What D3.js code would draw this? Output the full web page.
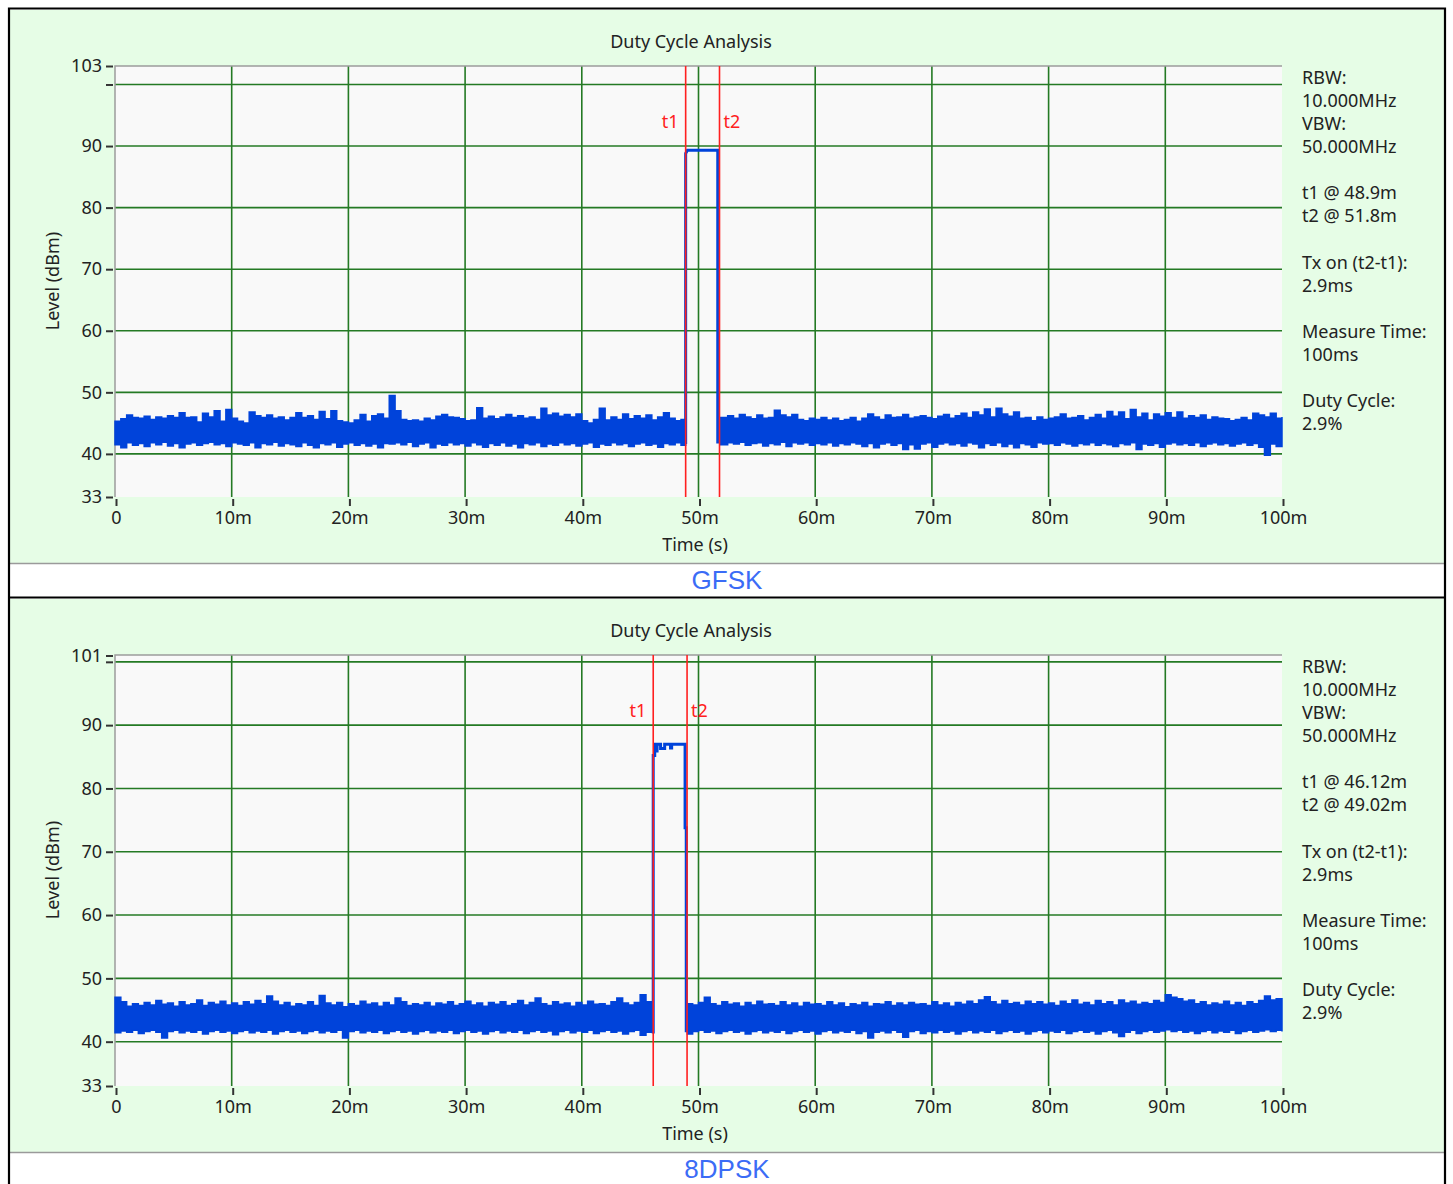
<!DOCTYPE html>
<html>
<head>
<meta charset="utf-8">
<script src="https://cdn.jsdelivr.net/npm/d3@7"></script>
<style>
  body { margin: 0; background: #fff; }
  svg { display: block; }
  text { font-family: "Noto Sans", sans-serif; }
</style>
</head>
<body>
<svg id="chart"></svg>
<script>
// --- data (time in ms, level in dBm) ---
var timeTicks = [0, 10, 20, 30, 40, 50, 60, 70, 80, 90, 100];
var timeLabels = ["0", "10m", "20m", "30m", "40m", "50m", "60m", "70m", "80m", "90m", "100m"];
var levelGrid = [40, 50, 60, 70, 80, 90, 100];

var gfskYTicks = [103, 100, 90, 80, 70, 60, 50, 40, 33];
var gfskYLabels = ["103", "", "90", "80", "70", "60", "50", "40", "33"];
var dpskYTicks = [101, 100, 90, 80, 70, 60, 50, 40, 33];
var dpskYLabels = ["101", "", "90", "80", "70", "60", "50", "40", "33"];

var gfskMarkers = [48.9, 51.8];
var dpskMarkers = [46.12, 49.02];

var gfskInfo = ["RBW:", "10.000MHz", "VBW:", "50.000MHz", "", "t1 @ 48.9m", "t2 @ 51.8m", "",
  "Tx on (t2-t1):", "2.9ms", "", "Measure Time:", "100ms", "", "Duty Cycle:", "2.9%"];
var dpskInfo = ["RBW:", "10.000MHz", "VBW:", "50.000MHz", "", "t1 @ 46.12m", "t2 @ 49.02m", "",
  "Tx on (t2-t1):", "2.9ms", "", "Measure Time:", "100ms", "", "Duty Cycle:", "2.9%"];

// noise band envelopes, one value every 0.5 ms
var gfskHiA = [45.3,45.7,46.3,45.9,45.8,46.1,45.6,46.0,45.8,46.2,
  45.9,46.7,45.9,46.0,45.2,46.6,46.0,47.0,45.3,47.2,
  45.8,45.3,45.0,46.8,46.2,45.9,46.3,45.8,46.0,45.5,
  45.9,46.7,45.9,46.2,45.6,46.9,45.7,47.0,45.4,45.2,
  45.0,45.5,46.4,45.3,46.2,46.5,45.8,49.5,47.0,45.6,
  45.4,45.5,45.3,45.8,45.5,46.1,46.4,46.0,45.9,45.7,
  45.4,45.5,47.5,45.8,46.1,45.7,46.0,46.4,45.9,46.2,
  45.8,46.0,45.6,47.4,46.3,46.6,46.1,46.4,46.0,46.5,
  45.4,45.0,45.6,47.4,45.5,46.0,45.6,46.5,45.7,46.2,
  45.8,46.3,45.5,46.0,46.7,45.8,45.4,45.6];
var gfskLoA = [41.5,41.0,41.8,41.4,41.7,41.2,41.8,41.5,41.9,41.3,
  41.7,41.0,41.6,41.8,41.4,41.7,41.9,41.5,41.7,41.2,
  41.8,41.6,41.4,41.8,41.0,41.7,41.5,41.9,41.3,41.7,
  41.5,41.2,41.8,41.4,41.0,41.7,41.5,41.8,41.1,41.6,
  41.8,41.4,41.7,41.3,41.6,41.0,41.7,41.6,41.8,41.5,
  41.9,41.2,41.6,41.8,41.0,41.6,41.4,41.8,41.5,41.7,
  41.3,41.8,41.5,41.1,41.7,41.4,41.8,41.3,41.6,41.0,
  41.7,41.5,41.8,41.2,41.6,41.4,41.8,41.5,41.7,41.3,
  41.6,41.8,41.1,41.6,41.4,41.8,41.5,41.7,41.2,41.6,
  41.8,41.4,41.6,41.1,41.7,41.5,41.8,41.4];
var gfskHiB = [45.9,46.2,45.8,46.4,46.0,45.7,46.3,45.8,45.9,47.1,
  46.3,46.0,46.4,45.6,45.4,45.8,45.6,45.9,45.5,45.8,
  45.4,45.6,45.9,45.3,45.8,46.5,46.0,45.6,46.3,45.9,
  46.0,46.4,45.8,46.0,46.2,45.9,45.7,46.1,46.4,45.8,
  46.2,46.6,45.9,46.8,46.3,47.3,46.0,47.4,46.5,46.1,
  46.8,45.8,45.9,45.4,46.0,45.6,45.8,46.0,46.5,45.8,
  45.9,46.2,45.5,45.9,46.4,45.8,46.9,46.1,46.8,45.7,
  47.2,46.0,46.6,45.5,46.5,46.1,46.7,45.9,46.8,45.8,
  46.2,45.9,46.3,45.6,46.0,45.8,45.7,45.4,45.6,45.9,
  45.5,46.6,46.3,46.0,46.6,45.8,46.0];
var gfskLoB = [41.5,41.8,41.6,41.9,41.4,41.7,41.8,41.3,41.7,41.5,
  41.9,41.2,41.8,41.6,41.8,41.4,41.7,41.5,41.8,41.3,
  41.7,41.5,41.8,41.6,41.2,41.7,41.0,41.6,41.8,41.4,
  41.7,40.7,41.5,40.8,41.6,41.8,41.1,41.6,41.8,41.5,
  41.7,41.3,41.8,41.6,41.0,41.7,41.4,41.8,41.2,41.6,
  41.0,41.7,41.5,41.1,41.8,41.6,41.7,41.4,41.8,41.6,
  41.3,41.7,41.5,41.8,41.4,41.7,41.5,41.2,41.7,41.5,
  41.8,40.7,41.6,41.4,41.7,41.1,41.6,41.8,41.5,41.7,
  41.4,41.8,41.2,41.6,41.8,41.5,41.7,41.3,41.6,41.8,
  41.4,41.7,41.1,39.8,41.6,41.2,41.5];
// transmission burst outline [time, level]
var gfskPulse = [[48.9, 41.6], [48.9, 88.8], [49.05, 89.3], [51.65, 89.3], [51.65, 41.7]];

var dpskHiA = [47.0,46.3,45.6,46.0,45.7,46.2,45.8,46.5,45.9,46.1,
  45.6,46.3,45.8,46.0,46.6,45.7,46.2,45.9,46.4,45.8,
  46.1,45.7,46.3,45.9,46.5,46.0,47.2,46.4,45.8,46.2,
  45.6,46.0,45.8,46.3,45.7,47.3,46.1,45.8,46.2,45.5,
  46.0,45.7,46.4,45.9,46.1,45.6,46.2,45.8,46.9,46.3,
  45.7,46.0,45.8,46.2,45.6,46.1,45.9,46.3,45.7,46.0,
  46.4,45.8,46.1,45.6,46.2,45.9,46.3,45.7,46.0,46.5,
  45.8,46.2,46.9,46.0,45.7,46.3,45.9,46.1,45.6,46.2,
  45.8,46.4,45.9,46.0,45.7,46.3,46.9,46.1,45.8,46.2,
  47.4,46.3];
var dpskLoA = [41.4,41.7,41.5,41.8,41.3,41.6,41.8,41.5,40.6,41.6,
  41.8,41.4,41.7,41.5,41.8,41.2,41.6,41.8,41.5,41.7,
  41.3,41.6,41.8,41.4,41.7,41.5,41.8,41.2,41.6,41.8,
  41.5,41.7,41.3,41.6,41.8,41.4,41.7,41.5,41.8,40.6,
  41.6,41.8,41.4,41.7,41.5,41.8,41.3,41.6,41.8,41.5,
  41.7,41.2,41.6,41.8,41.4,41.7,41.5,41.8,41.3,41.6,
  41.8,41.5,41.7,41.2,41.6,41.8,41.4,41.7,41.5,41.8,
  41.3,41.6,41.8,41.5,41.7,41.1,41.6,41.8,41.4,41.7,
  41.5,41.8,41.3,41.6,41.8,41.5,41.7,41.2,41.6,41.8,
  41.0,41.5];
var dpskHiB = [46.0,45.8,46.2,47.0,46.0,45.7,46.3,45.9,46.1,45.6,
  46.2,45.8,46.4,45.9,46.0,45.7,46.3,45.8,46.1,45.6,
  46.2,45.9,46.0,45.7,46.3,45.8,46.1,45.5,46.0,45.8,
  46.2,45.6,46.0,45.9,46.3,45.7,46.1,45.8,46.2,45.9,
  46.0,45.7,46.3,45.8,46.1,45.6,46.2,45.9,46.4,46.0,
  46.6,47.1,46.3,45.9,46.5,46.0,46.2,45.8,46.4,46.0,
  46.3,45.9,46.1,45.7,46.4,46.0,46.6,45.9,46.2,45.8,
  46.5,46.0,46.3,45.8,46.6,46.1,46.4,45.9,46.2,46.0,
  46.5,46.2,47.4,47.0,46.8,46.4,46.6,46.0,46.3,45.8,
  46.1,45.9,46.4,45.8,46.2,45.7,46.3,46.0,46.5,47.2,
  46.6,46.8,46.3];
var dpskLoB = [41.2,41.6,41.8,41.5,41.7,41.3,41.6,41.8,41.5,41.7,
  41.2,41.6,41.8,41.4,41.7,41.5,41.8,41.3,41.6,41.8,
  41.5,41.7,41.2,41.6,41.8,41.4,41.7,41.5,41.8,41.3,
  41.6,40.6,41.5,41.7,41.4,41.8,41.5,40.7,41.6,41.8,
  41.3,41.6,41.4,41.8,41.5,41.7,41.2,41.6,41.8,41.4,
  41.7,41.5,41.8,41.3,41.6,41.8,41.5,41.7,41.2,41.6,
  41.8,41.4,41.7,41.5,41.8,41.3,41.6,41.8,41.5,41.7,
  41.2,41.6,41.8,41.4,40.8,41.5,41.8,41.3,41.6,41.8,
  41.5,41.7,41.9,41.6,41.8,41.5,41.7,41.3,41.6,41.8,
  41.4,41.7,41.5,41.8,41.3,41.6,41.8,41.5,41.7,41.9,
  41.6,41.8,41.6];
var dpskPulse = [[46.12, 41.3], [46.12, 85.2], [46.25, 85.2], [46.25, 87.0], [46.35, 87.0], [46.35, 85.9],
  [46.45, 85.9], [46.45, 87.0], [46.75, 87.0], [46.75, 86.3], [47.1, 86.3], [47.1, 87.0],
  [47.6, 87.0], [47.6, 86.4], [47.7, 86.4], [47.7, 87.0], [48.85, 87.0], [48.85, 73.8],
  [48.95, 73.8], [48.95, 41.5]];

var panels = [
  { oy: 0, caption: "GFSK", yDomain: [33, 103], yTicks: gfskYTicks, yLabels: gfskYLabels,
    markers: gfskMarkers, info: gfskInfo, pulse: gfskPulse,
    segs: [{ start: 0, from: 0, to: 48.9, hi: gfskHiA, lo: gfskLoA },
           { start: 52, from: 51.85, to: 100, hi: gfskHiB, lo: gfskLoB }] },
  { oy: 589, caption: "8DPSK", yDomain: [33, 101], yTicks: dpskYTicks, yLabels: dpskYLabels,
    markers: dpskMarkers, info: dpskInfo, pulse: dpskPulse,
    segs: [{ start: 0, from: 0, to: 46.1, hi: dpskHiA, lo: dpskLoA },
           { start: 49, from: 49.05, to: 100, hi: dpskHiB, lo: dpskLoB }] }
];

var W = 1453, H = 1184;
var step = 0.5;
var fs = "18px";
var plot = { left: 115, right: 1282, top: 66, bottom: 497 };
var blue = "#0043da", grid = "#247a24", red = "#ff2020";

var svg = d3.select("#chart").attr("width", W).attr("height", H);
svg.append("rect").attr("width", W).attr("height", H).attr("fill", "#fff");

panels.forEach(function(p) {
  var g = svg.append("g").attr("transform", "translate(0," + p.oy + ")");

  g.append("rect").attr("x", 10).attr("y", 10).attr("width", 1434).attr("height", 553).attr("fill", "#e6fde6");
  g.append("line").attr("x1", 10).attr("x2", 1444).attr("y1", 563.5).attr("y2", 563.5)
    .attr("stroke", "#9a9a9a").attr("stroke-width", 1.5);
  g.append("text").attr("x", 727).attr("y", 589).attr("text-anchor", "middle")
    .style("font-family", "'Liberation Sans', Arial, sans-serif").style("font-size", "26px")
    .attr("fill", "#3b6cf6").text(p.caption);

  var x = d3.scaleLinear().domain([0, 100]).range([plot.left, plot.right]);
  var y = d3.scaleLinear().domain(p.yDomain).range([plot.bottom, plot.top + (p.oy ? 0.5 : 0)]);

  g.append("rect").attr("x", plot.left).attr("y", plot.top)
    .attr("width", plot.right - plot.left).attr("height", plot.bottom - plot.top).attr("fill", "#f9f9f9");

  // grid
  g.selectAll(".hg").data(levelGrid).enter().append("line")
    .attr("x1", plot.left).attr("x2", plot.right)
    .attr("y1", function(d) { return y(d); }).attr("y2", function(d) { return y(d); })
    .attr("stroke", grid).attr("stroke-width", 1.6);
  g.selectAll(".vg").data(timeTicks.slice(1, -1)).enter().append("line")
    .attr("y1", plot.top).attr("y2", plot.bottom)
    .attr("x1", function(d) { return x(d); }).attr("x2", function(d) { return x(d); })
    .attr("stroke", grid).attr("stroke-width", 1.6);

  // plot frame (top + left only)
  g.append("path").attr("d", "M" + plot.left + "," + plot.bottom + "V" + plot.top + "H" + plot.right)
    .attr("fill", "none").attr("stroke", "#9c9c9c").attr("stroke-width", 1.5);

  // axes
  var yAxis = d3.axisLeft(y).tickValues(p.yTicks).tickSize(7).tickPadding(4)
    .tickFormat(function(d, i) { return p.yLabels[i]; });
  var ya = g.append("g").attr("transform", "translate(" + (plot.left - 2) + ",0)").call(yAxis);
  ya.select(".domain").remove();
  ya.selectAll("line").attr("stroke", "#333").attr("stroke-width", 2);
  ya.selectAll("text").attr("fill", "#222").style("font-size", fs).style("font-family", "'Noto Sans', sans-serif");

  var xAxis = d3.axisBottom(x).tickValues(timeTicks).tickSize(7).tickPadding(5)
    .tickFormat(function(d, i) { return timeLabels[i]; });
  var xa = g.append("g").attr("transform", "translate(1," + (plot.bottom + 2) + ")").call(xAxis);
  xa.select(".domain").remove();
  xa.selectAll("line").attr("stroke", "#333").attr("stroke-width", 2);
  xa.selectAll("text").attr("fill", "#222").style("font-size", fs).style("font-family", "'Noto Sans', sans-serif");

  // trace: noise bands
  var area = d3.area().curve(d3.curveStepAfter)
    .x(function(d) { return x(d.t); })
    .y0(function(d) { return y(d.lo); })
    .y1(function(d) { return y(d.hi); });
  p.segs.forEach(function(s) {
    var pts = s.hi.map(function(v, i) { return { t: s.start + i * step, hi: v, lo: s.lo[i] }; });
    pts[0].t = s.from;
    var last = pts[pts.length - 1];
    pts.push({ t: s.to, hi: last.hi, lo: last.lo });
    g.append("path").datum(pts).attr("d", area)
      .attr("fill", blue).attr("stroke", blue).attr("stroke-width", 1.5);
  });

  // trace: burst
  var line = d3.line().x(function(d) { return x(d[0]); }).y(function(d) { return y(d[1]); });
  g.append("path").datum(p.pulse).attr("d", line)
    .attr("fill", "none").attr("stroke", blue).attr("stroke-width", 3);

  // markers
  g.selectAll(".mk").data(p.markers).enter().append("line")
    .attr("x1", function(d) { return x(d); }).attr("x2", function(d) { return x(d); })
    .attr("y1", plot.top).attr("y2", plot.bottom)
    .attr("stroke", red).attr("stroke-width", 1.6);
  g.selectAll(".ml").data(p.markers).enter().append("text")
    .attr("x", function(d, i) { return i === 0 ? x(d) - 7 : x(d) + 4; })
    .attr("y", plot.top + 62)
    .attr("text-anchor", function(d, i) { return i === 0 ? "end" : "start"; })
    .attr("fill", red).style("font-size", fs)
    .text(function(d, i) { return "t" + (i + 1); });

  // titles
  g.append("text").attr("x", 691).attr("y", 48).attr("text-anchor", "middle")
    .attr("fill", "#222").style("font-size", fs).text("Duty Cycle Analysis");
  g.append("text").attr("x", 695).attr("y", 551).attr("text-anchor", "middle")
    .attr("fill", "#222").style("font-size", fs).text("Time (s)");
  g.append("text").attr("transform", "translate(59,281) rotate(-90)").attr("text-anchor", "middle")
    .attr("fill", "#222").style("font-size", fs).text("Level (dBm)");

  // info column
  g.selectAll(".info").data(p.info).enter().append("text")
    .attr("x", 1302).attr("y", function(d, i) { return 84 + i * 23.07; })
    .attr("fill", "#222").style("font-size", fs)
    .text(function(d) { return d; });
});

// table borders
svg.append("path")
  .attr("d", "M9,1184V8.5H1445V1184M9,597.5H1445")
  .attr("fill", "none").attr("stroke", "#000").attr("stroke-width", 2.2);
</script>
</body>
</html>
